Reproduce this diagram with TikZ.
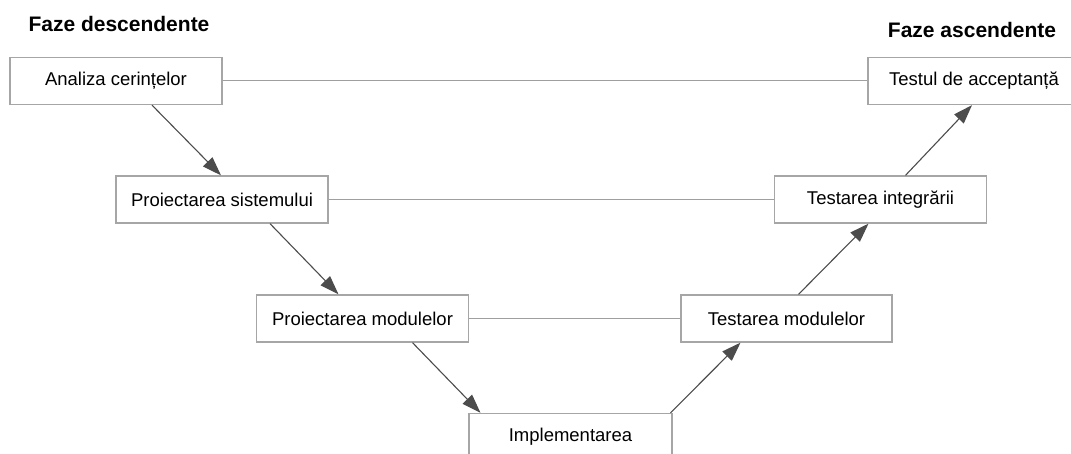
\documentclass[tikz,border=0pt]{standalone}
\usepackage{fontspec}
\setmainfont{Liberation Sans}
\usetikzlibrary{arrows.meta, positioning, calc}

\begin{document}
\begin{tikzpicture}[x=1pt, y=-1pt,
                faza/.style={draw=gray!70, line width=1.3pt, fill=white, minimum width=212pt, minimum height=47pt, inner sep=0pt, font=\fontsize{18.5}{20}\selectfont},
                titlu/.style={font=\fontsize{21}{23}\selectfont\bfseries},
                legatura/.style={draw=gray!75, line width=1pt},
                sageata/.style={draw=black!70, line width=1.1pt, -{Triangle[length=19pt, width=13pt]}}]
                \useasboundingbox (0,0) rectangle (1071,454);
                \clip (0,0) rectangle (1071,454);
                \node[titlu] (desc) at (119,24) {Faze descendente};
                \node[titlu] (asc) at (972,30) {Faze ascendente};
                \node[faza] (analiza) at (116,81) {Analiza cerințelor};
                \node[faza] (sistem) at (222,199.5) {Proiectarea sistemului};
                \node[faza] (module) at (362.5,318.5) {Proiectarea modulelor};
                \node[faza, minimum width=203pt] (impl) at (570.5,437) {Implementarea};
                \node[faza, minimum width=211pt] (testmod) at (786.5,318.5) {Testarea modulelor};
                \node[faza] (testint) at (880.5,199.5) {Testarea integrării};
                \node[faza] (accept) at (974,81) {Testul de acceptanță};
                \draw[legatura] (analiza.east) -- (accept.west);
                \draw[legatura] (sistem.east) -- (testint.west);
                \draw[legatura] (module.east) -- (testmod.west);
                \draw[sageata] ([xshift=36pt]analiza.south) -- ([xshift=-1pt]sistem.north);
                \draw[sageata] ([xshift=48pt]sistem.south) -- ([xshift=-24pt]module.north);
                \draw[sageata] ([xshift=50pt]module.south) -- ([xshift=-90pt]impl.north);
                \draw[sageata] ([xshift=100pt]impl.north) -- ([xshift=-46pt]testmod.south);
                \draw[sageata] ([xshift=12pt]testmod.north) -- ([xshift=-12pt]testint.south);
                \draw[sageata] ([xshift=25pt]testint.north) -- ([xshift=-2pt]accept.south);
            \end{tikzpicture}
\end{document}
